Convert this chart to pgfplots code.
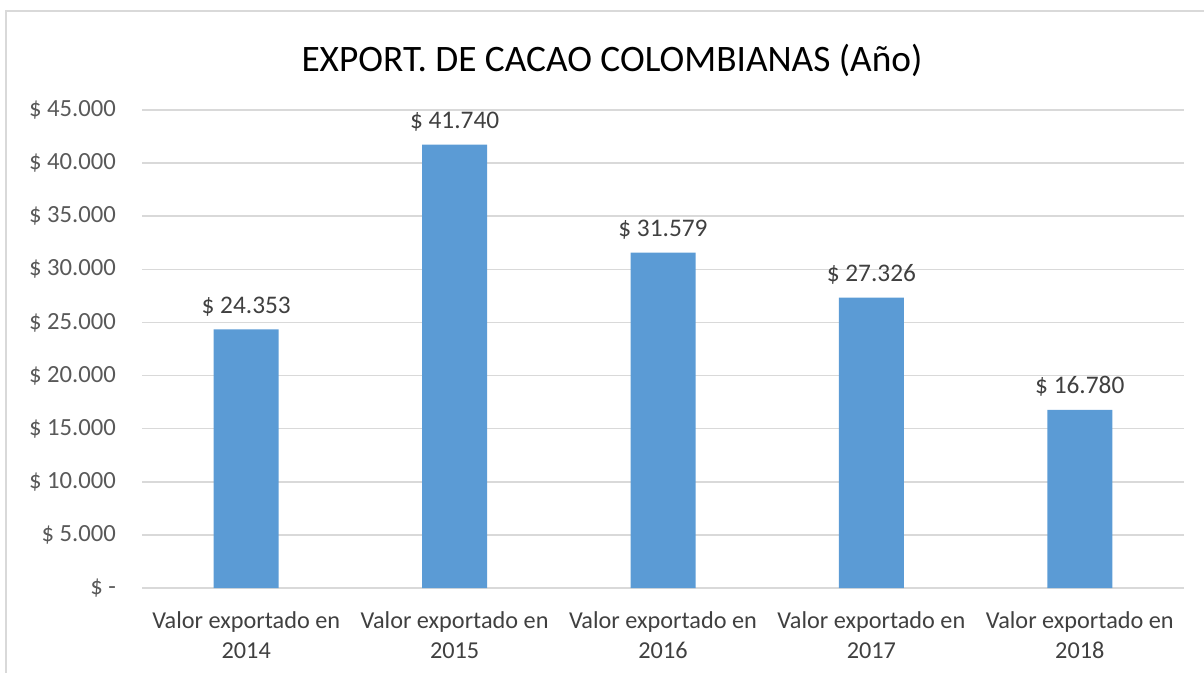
\documentclass[border=0pt]{standalone}
\usepackage{pgfplots}
\pgfplotsset{compat=1.18}
\usepackage{fontspec}
\setmainfont{Carlito}
\definecolor{barblue}{HTML}{5B9BD5}
\definecolor{gridgray}{HTML}{D9D9D9}
\definecolor{ticklbl}{HTML}{595959}
\definecolor{txt}{HTML}{404040}
\begin{document}
\begin{tikzpicture}
\path[use as bounding box] (0,0) rectangle (903pt,504pt);
\draw[gridgray, line width=1.2pt] (4.5pt,-10pt) -- (4.5pt,495.75pt) -- (920pt,495.75pt);
\node[font=\fontsize{28}{32}\selectfont, text=black] at (459pt,459pt) {EXPORT. DE CACAO COLOMBIANAS (Año)};
\begin{axis}[
  at={(106.5pt,63pt)}, anchor=south west,
  scale only axis, width=781.5pt, height=358.5pt,
  xmin=-0.5, xmax=4.5, ymin=0, ymax=45000,
  scaled y ticks=false,
  axis line style={draw=none},
  tick style={draw=none},
  ymajorgrids, major grid style={gridgray, line width=1.1pt},
  ytick={0,5000,...,45000},
  yticklabels={\$ -,\$ 5.000,\$ 10.000,\$ 15.000,\$ 20.000,\$ 25.000,\$ 30.000,\$ 35.000,\$ 40.000,\$ 45.000},
  yticklabel style={font=\fontsize{18.5}{22}\selectfont, text=ticklbl, anchor=east, xshift=-16pt},
  xtick={0,1,2,3,4},
  xticklabels={{Valor exportado en\\2014},{Valor exportado en\\2015},{Valor exportado en\\2016},{Valor exportado en\\2017},{Valor exportado en\\2018}},
  xticklabel style={font=\fontsize{18.2}{22.5}\selectfont, text=txt, align=center, anchor=north, yshift=-14pt},
  clip=false,
]
\addplot[ybar, bar width=48.75pt, fill=barblue, draw=none,
  nodes near coords, point meta=explicit symbolic,
  every node near coord/.append style={font=\fontsize{19}{22}\selectfont, text=txt, anchor=south, yshift=6.5pt}]
  table[meta=label] {
x y label
0 24353 {\$ 24.353}
1 41740 {\$ 41.740}
2 31579 {\$ 31.579}
3 27326 {\$ 27.326}
4 16780 {\$ 16.780}
};
\end{axis}
\end{tikzpicture}
\end{document}
